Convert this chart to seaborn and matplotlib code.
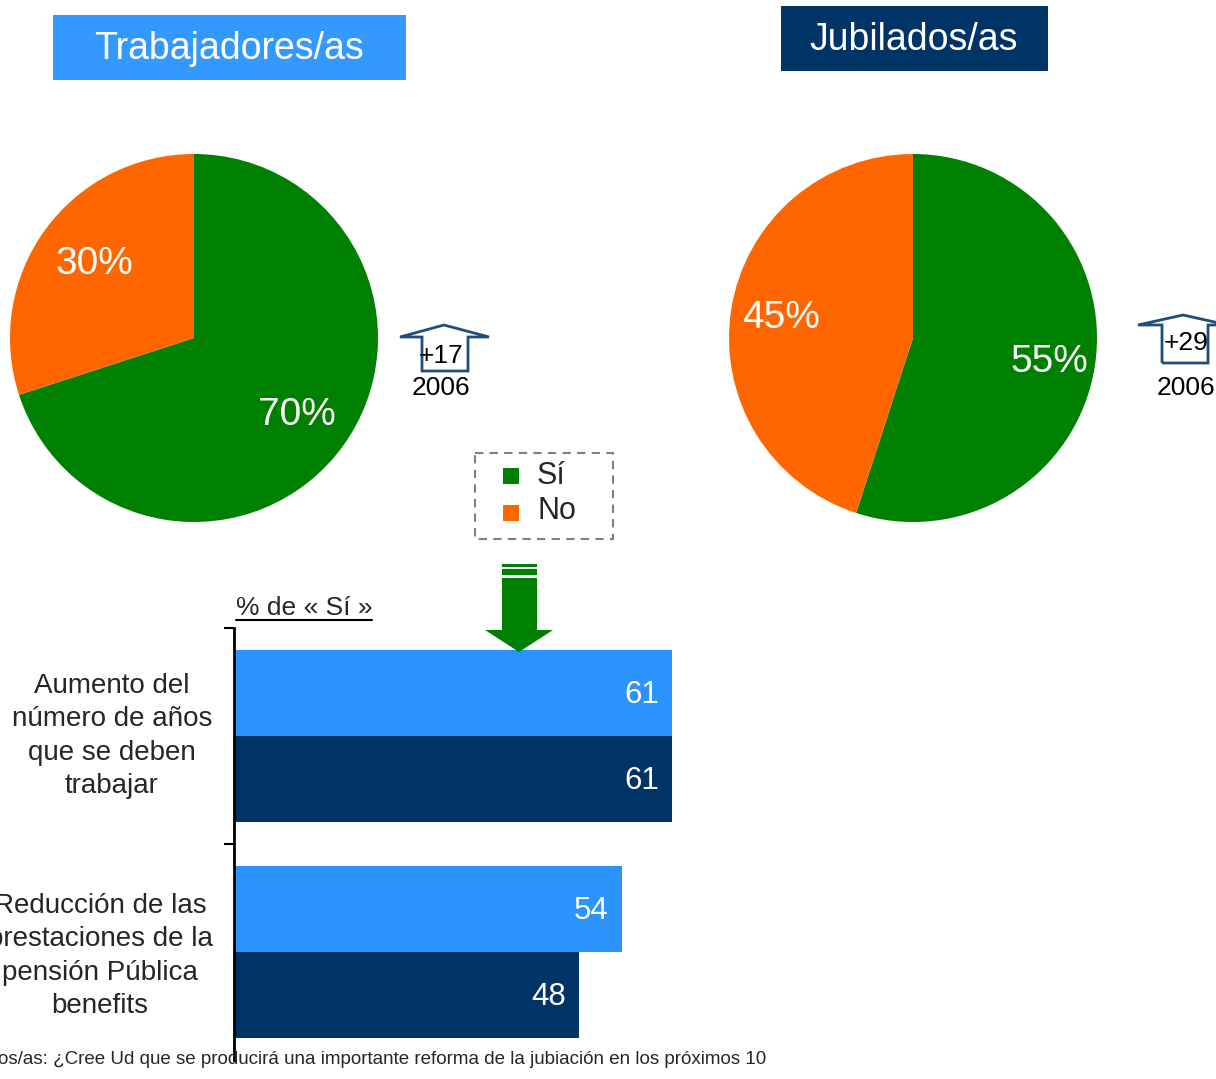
import matplotlib
matplotlib.use("Agg")
import matplotlib.pyplot as plt
from matplotlib.patches import Rectangle, Polygon
import seaborn as sns
import pandas as pd

# Data
pie_labels = ["Sí", "No"]
trabajadores_pct = [70, 30]
jubilados_pct = [55, 45]
cambio_2006 = ["+17", "+29"]

categorias = ["Aumento del\nnúmero de años\nque se deben\ntrabajar",
              "Reducción de las\nprestaciones de la\npensión Pública\nbenefits"]
grupos = ["Trabajadores/as", "Jubilados/as"]
si_trabajadores = [61, 54]
si_jubilados = [61, 48]

GREEN = "#008000"
ORANGE = "#FF6600"
LIGHT = "#2A93FC"
NAVY = "#003366"

sns.set_style("white")
plt.rcParams["font.family"] = ["Liberation Sans", "DejaVu Sans"]

W, H = 1216, 1079
fig = plt.figure(figsize=(W / 100, H / 100), dpi=100)


def px_axes(left, top, width, height):
    return fig.add_axes([left / W, 1 - (top + height) / H, width / W, height / H])


def draw_pie(cx, cy, r, values, label_pos):
    ax = px_axes(cx - r, cy - r, 2 * r, 2 * r)
    ax.pie(values, colors=[GREEN, ORANGE], startangle=90, counterclock=False,
           radius=1, wedgeprops=dict(linewidth=0))
    ax.set_xlim(-1, 1)
    ax.set_ylim(-1, 1)
    ax.set_aspect("auto")
    for v, (x, y) in zip(values, label_pos):
        ax.text(x, y, f"{v}%", color="white", fontsize=28, ha="center", va="center")
    ax.axis("off")


draw_pie(194, 338, 184, trabajadores_pct, [(0.56, -0.42), (-0.54, 0.40)])
draw_pie(913, 338, 184, jubilados_pct, [(0.74, -0.13), (-0.72, 0.11)])

# Bar chart of "% de Sí"
df = pd.DataFrame({
    "categoria": categorias * 2,
    "grupo": [grupos[0]] * 2 + [grupos[1]] * 2,
    "valor": si_trabajadores + si_jubilados,
})
bx = px_axes(234, 628, 500, 432)
sns.barplot(data=df, y="categoria", x="valor", hue="grupo", orient="h",
            palette=[LIGHT, NAVY], width=0.8, saturation=1, legend=False,
            errorbar=None, ax=bx, linewidth=0)
bx.set_xlim(0, 500 / (438 / 61))
bx.set_ylim(1.5, -0.5)
bx.set_xlabel("")
bx.set_ylabel("")
bx.set_xticks([])
bx.set_yticks([-0.5, 0.5])
bx.set_yticklabels([])
bx.tick_params(axis="y", direction="out", length=7, width=1.5, left=True, color="black")
for s in ["top", "right", "bottom"]:
    bx.spines[s].set_visible(False)
bx.spines["left"].set_color("black")
bx.spines["left"].set_linewidth(2)
bx.patch.set_alpha(0)
for cont in bx.containers:
    for bar in cont:
        w = bar.get_width()
        y = bar.get_y() + bar.get_height() / 2 + 0.01
        bx.text(w - 1.8, y, f"{w:.0f}", color="white", fontsize=22.5,
                ha="right", va="center")

# Overlay in pixel coordinates for boxes, arrows and text
ov = fig.add_axes([0, 0, 1, 1])
ov.set_xlim(0, W)
ov.set_ylim(H, 0)
ov.axis("off")
ov.patch.set_alpha(0)

# Group title boxes
ov.add_patch(Rectangle((53, 15), 353, 65, color="#3399FF", lw=0))
ov.text(229, 49, grupos[0], color="white", fontsize=27, ha="center", va="center")
ov.add_patch(Rectangle((781, 6), 267, 65, color=NAVY, lw=0))
ov.text(914, 40, grupos[1], color="white", fontsize=27, ha="center", va="center")

# Up arrows with change since 2006
for (tip, stem_l, stem_r, head_l, head_r, top_y, head_y, bot_y, txt, tx, ty) in [
    (444, 422, 468, 400, 489, 325, 337, 371, cambio_2006[0], 441, 356),
    (1183, 1162, 1208, 1138, 1228, 315, 325, 363, cambio_2006[1], 1186, 343),
]:
    ov.add_patch(Polygon([(stem_l, bot_y), (stem_l, head_y), (head_l, head_y),
                          (tip, top_y), (head_r, head_y), (stem_r, head_y),
                          (stem_r, bot_y)], closed=True, fill=False,
                         edgecolor="#1F4E79", lw=2))
    ov.text(tx, ty, txt, fontsize=19, ha="center", va="center", color="black")
    ov.text(tx, 388, "2006", fontsize=19, ha="center", va="center", color="black")

# Legend box
ov.add_patch(Rectangle((475, 453), 138, 86, fill=False, edgecolor="#808080",
                       lw=1.5, linestyle=(0, (4, 3))))
ov.add_patch(Rectangle((503, 468), 16, 16, color=GREEN, lw=0))
ov.add_patch(Rectangle((503, 505), 16, 16, color=ORANGE, lw=0))
ov.text(537, 476, pie_labels[0], fontsize=22, ha="left", va="center")
ov.text(537, 511, pie_labels[1], fontsize=22, ha="left", va="center")

# Green down arrow
ov.add_patch(Rectangle((502, 564), 35, 3, color=GREEN, lw=0))
ov.add_patch(Rectangle((502, 569), 35, 6, color=GREEN, lw=0))
ov.add_patch(Polygon([(502, 578), (537, 578), (537, 630), (553, 630), (519, 652),
                      (485, 630), (502, 630)], closed=True, color=GREEN, lw=0))

# Axis title
ov.text(236, 608, "% de « Sí »", fontsize=19, ha="left", va="center")
ov.plot([236, 372], [620, 620], color="black", lw=1.5)

# Category labels
ov.text(112, 736, categorias[0], fontsize=20, ha="center", va="center",
        linespacing=1.37)
ov.text(100, 956, categorias[1], fontsize=20, ha="center", va="center",
        linespacing=1.37)

# Footnote
ov.text(-2, 1059, "os/as: ¿Cree Ud que se producirá una importante reforma de la "
        "jubiación en los próximos 10", fontsize=13.5, ha="left", va="center")

fig.savefig("out.png", dpi=100)
